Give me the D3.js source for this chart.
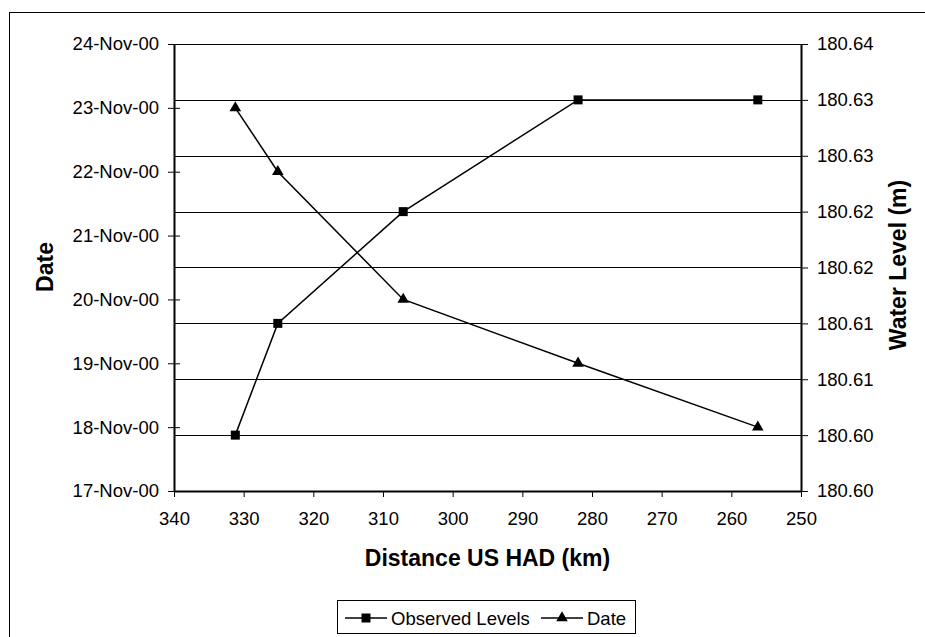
<!DOCTYPE html>
<html>
<head>
<meta charset="utf-8">
<script src="https://cdn.jsdelivr.net/npm/d3@7"></script>
<style>
  body { margin: 0; background: #fff; }
  svg { display: block; font-family: "Liberation Sans", Arial, sans-serif; }
</style>
</head>
<body>
<div id="chart"></div>
<script>
// distance upstream of HAD (km), shared by both series
const distances = [331.2, 325.1, 307.1, 282.0, 256.2];
// observed water levels (m) - right axis
const observedLevels = [180.605, 180.615, 180.625, 180.635, 180.635];
// dates - left axis
const dates = ["2000-11-23", "2000-11-22", "2000-11-20", "2000-11-19", "2000-11-18"];

const xTicks = [340, 330, 320, 310, 300, 290, 280, 270, 260, 250];
const levelTicks = [180.60, 180.605, 180.61, 180.615, 180.62, 180.625, 180.63, 180.635, 180.64];
const levelTickLabels = ["180.60", "180.60", "180.61", "180.61", "180.62", "180.62", "180.63", "180.63", "180.64"];
const seriesNames = ["Observed Levels", "Date"];

const width = 925;
const height = 637;
const plot = { left: 174, right: 801, top: 44, bottom: 491 };

const svg = d3.select("#chart")
    .append("svg")
    .attr("width", width)
    .attr("height", height);

// outer chart border (only top and left fall inside the picture)
svg.append("rect")
    .attr("x", 9.5)
    .attr("y", 12.5)
    .attr("width", 1000)
    .attr("height", 1000)
    .attr("fill", "none")
    .attr("stroke", "#000")
    .attr("stroke-width", 1);

const x = d3.scaleLinear()
    .domain([340, 250])
    .range([plot.left, plot.right]);

const yDate = d3.scaleTime()
    .domain([new Date(2000, 10, 17), new Date(2000, 10, 24)])
    .range([plot.bottom, plot.top]);

const yLevel = d3.scaleLinear()
    .domain([180.60, 180.64])
    .range([plot.bottom, plot.top]);

// horizontal gridlines from the right axis
svg.append("g")
    .selectAll("line")
    .data(levelTicks.slice(1))
    .enter()
    .append("line")
    .attr("x1", plot.left)
    .attr("x2", plot.right)
    .attr("y1", function (d) { return Math.round(yLevel(d)) + 0.5; })
    .attr("y2", function (d) { return Math.round(yLevel(d)) + 0.5; })
    .attr("stroke", "#000")
    .attr("stroke-width", 1);

// bottom axis
const xAxis = svg.append("g")
    .attr("transform", "translate(0," + plot.bottom + ")")
    .call(d3.axisBottom(x).tickValues(xTicks).tickSize(6).tickPadding(15).tickSizeOuter(0));

// left axis (dates)
const dayTicks = d3.timeDay.range(new Date(2000, 10, 17), new Date(2000, 10, 25));
const leftAxis = svg.append("g")
    .attr("transform", "translate(" + plot.left + ",0)")
    .call(d3.axisLeft(yDate).tickValues(dayTicks).tickFormat(d3.timeFormat("%d-%b-%y"))
        .tickSize(6).tickPadding(9).tickSizeOuter(0));
leftAxis.selectAll(".tick line").attr("x2", 6).attr("x1", -6);

// right axis (water level)
const rightAxis = svg.append("g")
    .attr("transform", "translate(" + plot.right + ",0)")
    .call(d3.axisRight(yLevel).tickValues(levelTicks)
        .tickFormat(function (d, i) { return levelTickLabels[i]; })
        .tickSize(7).tickPadding(9).tickSizeOuter(0));

[xAxis, leftAxis, rightAxis].forEach(function (g) {
    g.select(".domain").attr("stroke", "#000").attr("stroke-width", 2);
    g.selectAll(".tick line").attr("stroke", "#000").attr("stroke-width", 1);
    g.selectAll("text")
        .attr("fill", "#000")
        .style("font-size", "18.5px")
        .style("font-family", "'Liberation Sans', Arial, sans-serif");
});

// axis titles
svg.append("text")
    .attr("x", plot.left + (plot.right - plot.left) / 2)
    .attr("y", 566)
    .attr("text-anchor", "middle")
    .style("font-size", "23px")
    .style("font-weight", "bold")
    .text("Distance US HAD (km)");

svg.append("text")
    .attr("transform", "translate(45,267) rotate(-90)")
    .attr("text-anchor", "middle")
    .attr("dominant-baseline", "central")
    .style("font-size", "23px")
    .style("font-weight", "bold")
    .text("Date");

svg.append("text")
    .attr("transform", "translate(898,265) rotate(-90)")
    .attr("text-anchor", "middle")
    .attr("dominant-baseline", "central")
    .style("font-size", "23px")
    .style("font-weight", "bold")
    .text("Water Level (m)");

// series
const levelData = distances.map(function (d, i) { return { x: d, y: observedLevels[i] }; });
const dateData = distances.map(function (d, i) { return { x: d, y: d3.timeParse("%Y-%m-%d")(dates[i]) }; });

const levelLine = d3.line()
    .x(function (d) { return x(d.x); })
    .y(function (d) { return yLevel(d.y); });
const dateLine = d3.line()
    .x(function (d) { return x(d.x); })
    .y(function (d) { return yDate(d.y); });

svg.append("path")
    .datum(levelData)
    .attr("d", levelLine)
    .attr("fill", "none")
    .attr("stroke", "#000")
    .attr("stroke-width", 1.5);

svg.append("path")
    .datum(dateData)
    .attr("d", dateLine)
    .attr("fill", "none")
    .attr("stroke", "#000")
    .attr("stroke-width", 1.5);

const square = d3.symbol().type(d3.symbolSquare).size(81);
const triangle = d3.symbol().type(d3.symbolTriangle).size(58);

svg.selectAll("levelMarks")
    .data(levelData)
    .enter()
    .append("path")
    .attr("d", square)
    .attr("transform", function (d) { return "translate(" + x(d.x) + "," + yLevel(d.y) + ")"; })
    .attr("fill", "#000");

svg.selectAll("dateMarks")
    .data(dateData)
    .enter()
    .append("path")
    .attr("d", triangle)
    .attr("transform", function (d) { return "translate(" + x(d.x) + "," + yDate(d.y) + ")"; })
    .attr("fill", "#000");

// legend
const legend = svg.append("g");
legend.append("rect")
    .attr("x", 337.5)
    .attr("y", 600.5)
    .attr("width", 298)
    .attr("height", 33)
    .attr("fill", "#fff")
    .attr("stroke", "#000")
    .attr("stroke-width", 1);

const legendItems = [
    { name: seriesNames[0], x0: 345, text: 391, symbol: square },
    { name: seriesNames[1], x0: 541, text: 587, symbol: triangle }
];
legendItems.forEach(function (item) {
    legend.append("line")
        .attr("x1", item.x0)
        .attr("x2", item.x0 + 42)
        .attr("y1", 618)
        .attr("y2", 618)
        .attr("stroke", "#000")
        .attr("stroke-width", 1.5);
    legend.append("path")
        .attr("d", item.symbol)
        .attr("transform", "translate(" + (item.x0 + 21) + ",618)")
        .attr("fill", "#000");
    legend.append("text")
        .attr("x", item.text)
        .attr("y", 618)
        .attr("dominant-baseline", "central")
        .style("font-size", "18.5px")
        .text(item.name);
});
</script>
</body>
</html>
